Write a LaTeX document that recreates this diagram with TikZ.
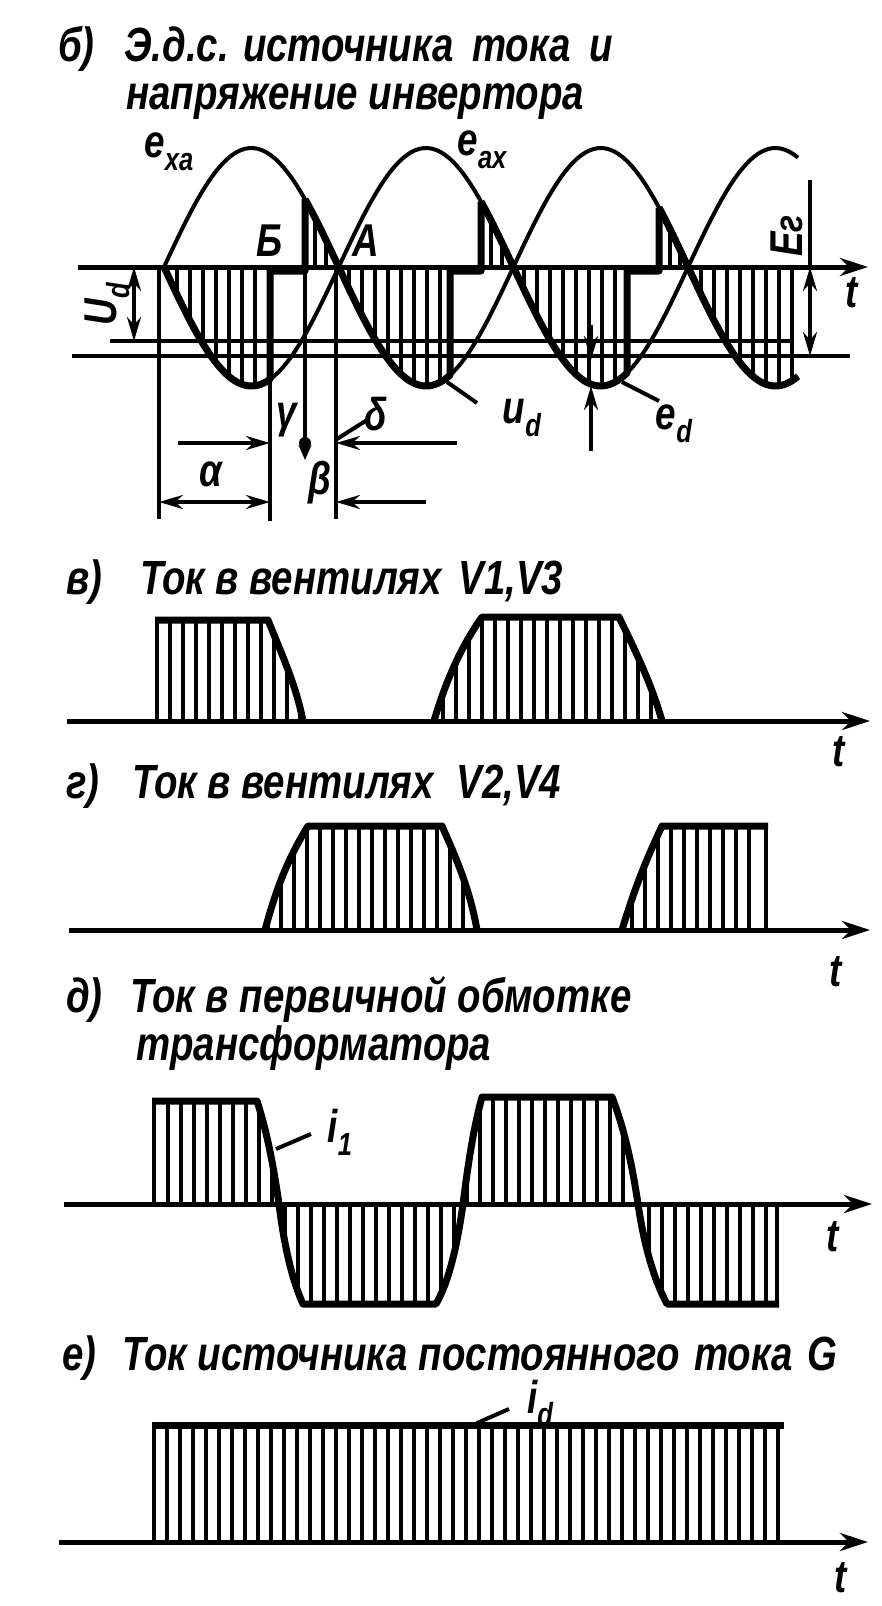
\documentclass[tikz,border=0pt]{standalone}
\usepackage{fontspec}
\setmainfont{Liberation Sans}[FakeStretch=0.8]
\usepackage{tikz}
\usetikzlibrary{arrows.meta,positioning}
\tikzstyle{axisline} = [line width=5pt,-{Stealth[length=28pt,width=18pt]}]
\tikzstyle{heavyline} = [line width=7pt,line join=round]
\tikzstyle{thinline} = [line width=4pt]
\tikzstyle{hatchline} = [line width=4pt]
\tikzstyle{arrow} = [line width=3.4pt,-{Stealth[length=24pt,width=14pt]}]
\tikzstyle{dblarrow} = [line width=3.4pt,{Stealth[length=24pt,width=14pt]}-{Stealth[length=24pt,width=14pt]}]
\tikzstyle{title} = [anchor=base west,inner sep=0pt,font=\fontsize{48}{48}\selectfont\bfseries\itshape]
\tikzstyle{lab} = [inner sep=0pt,font=\fontsize{46}{46}\selectfont\bfseries\itshape]
\newcommand{\lowtxt}[1]{\raisebox{-0.28em}{\fontsize{32}{32}\selectfont #1}}
\def\pulseA{(157,721) -- (157,620) -- (268,620) .. controls (282,655) and (296,685) .. (303,721)}
\def\heavyA{(155,620) -- (268,620) .. controls (282,655) and (296,685) .. (303,721)}
\def\pulseB{(434,721) .. controls (446,680) and (462,645) .. (482,617) -- (619,617) .. controls (635,650) and (652,685) .. (662,721)}
\def\pulseC{(265,930) .. controls (277,885) and (290,855) .. (308,826) -- (442,826) .. controls (457,860) and (470,890) .. (477,930)}
\def\pulseD{(622,930) .. controls (634,890) and (646,860) .. (662,826) -- (766,826) -- (766,930)}
\def\heavyD{(622,930) .. controls (634,890) and (646,860) .. (662,826) -- (768,826)}
\def\heavyE{(152,1101) -- (257,1101) .. controls (268,1135) and (274,1170) .. (279,1204) .. controls (284,1245) and (292,1280) .. (303,1304) -- (436,1304) .. controls (450,1280) and (458,1240) .. (463,1204) .. controls (468,1165) and (473,1130) .. (482,1097) -- (612,1097) .. controls (625,1130) and (633,1170) .. (638,1204) .. controls (644,1245) and (654,1280) .. (667,1304) -- (779,1304)}
\begin{document}
\begin{tikzpicture}[x=1pt,y=-1pt,declare function={wave(\x)=119*sin((\x-164)/174.7*180);}]
\useasboundingbox (0,0) rectangle (881,1606);

% titles
\node[title] (tb) at (58,61) {б)};
\node[title] (tb1) at (124,61) {Э.д.с. источника\hspace{8pt} тока\hspace{8pt} и};
\node[title] (tb2) at (126,109) {напряжение инвертора};
\node[title] (tv) at (66,594) {в)};
\node[title] (tv1) at (140,594) {Ток в вентилях\hspace{6pt} V1,V3};
\node[title] (tg) at (66,798) {г)};
\node[title] (tg1) at (132,798) {Ток в вентилях\hspace{12pt} V2,V4};
\node[title] (td) at (66,1012) {д)};
\node[title] (td1) at (130,1012) {Ток в первичной обмотке};
\node[title] (td2) at (136,1060) {трансформатора};
\node[title] (te) at (62,1370) {е)};
\node[title] (te1) at (122,1370) {Ток источника постоянного\hspace{4pt} тока\hspace{4pt} G};

% e.m.f. and inverter voltage
\draw[thinline,domain=164:798,samples=150] plot (\x,{267+wave(\x)});
\draw[thinline,domain=164:798,samples=150] plot (\x,{267-wave(\x)});
\foreach \x in {177,190,...,262} \draw[hatchline] (\x,267) -- (\x,{267+wave(\x)});
\foreach \x in {349,362,...,440} \draw[hatchline] (\x,267) -- (\x,{267-wave(\x)});
\foreach \x in {524,537,...,620} \draw[hatchline] (\x,267) -- (\x,{267+wave(\x)});
\foreach \x in {701,714,...,792} \draw[hatchline] (\x,267) -- (\x,{267-wave(\x)});
\foreach \x in {315,326,491,502,670,680} \draw[hatchline] (\x,267) -- (\x,{267-abs(wave(\x))});
\draw[heavyline,domain=164:270,samples=40] plot (\x,{267+wave(\x)}) -- (270,271) -- (305,271) -- (305,{267-wave(305)});
\draw[heavyline,domain=305:450,samples=50] plot (\x,{267-wave(\x)}) -- (450,271) -- (481,271) -- (481,{267-abs(wave(481))});
\draw[heavyline,domain=481:627,samples=50] plot (\x,{267+wave(\x)}) -- (627,271) -- (659,271) -- (659,{267-abs(wave(659))});
\draw[heavyline,domain=659:798,samples=50] plot (\x,{267-wave(\x)});
\coordinate (ax0) at (78,267);
\coordinate (ax1) at (868,267);
\draw[axisline] (ax0) -- (ax1);
\coordinate (ud0) at (110,341);
\coordinate (ud1) at (790,341);
\draw[thinline] (ud0) -- (ud1);
\coordinate (er0) at (72,356);
\coordinate (er1) at (850,356);
\draw[thinline] (er0) -- (er1);
\coordinate (va0) at (159,267);
\coordinate (va1) at (159,519);
\draw[thinline] (va0) -- (va1);
\coordinate (vb0) at (270,380);
\coordinate (vb1) at (270,521);
\draw[thinline] (vb0) -- (vb1);
\coordinate (vc0) at (305,267);
\coordinate (vc1) at (305,460);
\draw[thinline,-{Stealth[length=15pt,width=13pt]}] (vc0) -- (vc1);
\coordinate (vd0) at (336,267);
\coordinate (vd1) at (336,519);
\draw[thinline] (vd0) -- (vd1);
\coordinate (d1) at (178,443);
\coordinate (d2) at (270,443);
\draw[arrow] (d1) -- (d2);
\coordinate (d3) at (457,443);
\coordinate (d4) at (336,443);
\draw[arrow] (d3) -- (d4);
\coordinate (dot) at (305,443);
\fill (dot) circle (6pt);
\coordinate (d5) at (159,502);
\coordinate (d6) at (270,502);
\draw[dblarrow] (d5) -- (d6);
\coordinate (d7) at (426,502);
\coordinate (d8) at (336,502);
\draw[arrow] (d7) -- (d8);
\coordinate (h1) at (134,267);
\coordinate (h2) at (134,341);
\draw[dblarrow] (h1) -- (h2);
\coordinate (h3) at (810,180);
\coordinate (h4) at (810,267);
\draw[thinline] (h3) -- (h4);
\coordinate (h5) at (810,267);
\coordinate (h6) at (810,356);
\draw[dblarrow] (h5) -- (h6);
\coordinate (k1) at (591,325);
\coordinate (k2) at (591,360);
\draw[arrow] (k1) -- (k2);
\coordinate (k3) at (591,451);
\coordinate (k4) at (591,386);
\draw[arrow] (k3) -- (k4);
\node[lab] (exa) at (169,152) {e\lowtxt{xa}};
\node[lab] (eax) at (482,150) {e\lowtxt{ax}};
\node[lab] (lbb) at (270,241) {Б};
\node[lab] (lba) at (366,241) {А};
\node[lab,rotate=90] (lbe) at (787,236) {E{\fontsize{40}{40}\selectfont г}};
\node[lab,rotate=90] (lbu) at (107,304) {U\lowtxt{d}};
\node[lab] (tta) at (852,293) {t};
\node[lab] (lgam) at (287,420) {γ};
\node[lab] (ldel) at (376,414) {δ};
\node[lab] (lalp) at (211,474) {α};
\node[lab] (lbet) at (320,483) {β};
\node[lab] (lud) at (522,418) {u\lowtxt{d}};
\node[lab] (led) at (674,424) {e\lowtxt{d}};
\coordinate (ldu) at (447,382);
\coordinate (lde) at (622,382);
\coordinate (ldd) at (337,439);
\draw[thinline] (ldu) -- (477,403);
\draw[thinline] (lde) -- (659,401);
\draw[thinline] (ldd) -- (367,420);

% current in V1, V3
\foreach \pth in {\pulseA,\pulseB} {
  \begin{scope}
    \clip \pth -- cycle;
    \foreach \x in {170,183,...,670} \draw[hatchline] (\x,600) -- (\x,725);
  \end{scope}
}
\draw[thinline] (157,721) -- (157,620);
\draw[heavyline] \heavyA;
\draw[heavyline] \pulseB;
\coordinate (bx0) at (67,721);
\coordinate (bx1) at (870,721);
\draw[axisline] (bx0) -- (bx1);
\node[lab] (ttb) at (839,752) {t};

% current in V2, V4
\foreach \pth in {\pulseC,\pulseD} {
  \begin{scope}
    \clip \pth -- cycle;
    \foreach \x in {268,281,...,760} \draw[hatchline] (\x,810) -- (\x,935);
  \end{scope}
}
\draw[thinline] (766,826) -- (766,930);
\draw[heavyline] \pulseC;
\draw[heavyline] \heavyD;
\coordinate (cx0) at (69,930);
\coordinate (cx1) at (870,930);
\draw[axisline] (cx0) -- (cx1);
\node[lab] (ttc) at (836,972) {t};

% primary winding current
\begin{scope}
  \clip \heavyE -- (777,1204) -- (154,1204) -- cycle;
  \foreach \x in {168,181,...,770} \draw[hatchline] (\x,1090) -- (\x,1315);
\end{scope}
\draw[thinline] (154,1204) -- (154,1101);
\draw[thinline] (777,1204) -- (777,1304);
\draw[heavyline] \heavyE;
\coordinate (dx0) at (64,1204);
\coordinate (dx1) at (872,1204);
\draw[axisline] (dx0) -- (dx1);
\node[lab] (lio) at (340,1132) {i\lowtxt{1}};
\coordinate (li1) at (276,1149);
\draw[thinline] (li1) -- (311,1134);
\node[lab] (ttd) at (833,1237) {t};

% dc source current
\foreach \x in {154,167,...,782} \draw[hatchline] (\x,1425) -- (\x,1542);
\coordinate (et0) at (152,1425);
\coordinate (et1) at (784,1425);
\draw[heavyline] (et0) -- (et1);
\coordinate (ex0) at (59,1542);
\coordinate (ex1) at (868,1542);
\draw[axisline] (ex0) -- (ex1);
\node[lab] (lid) at (540,1403) {i\lowtxt{d}};
\coordinate (li2) at (477,1423);
\draw[thinline] (li2) -- (509,1409);
\node[lab] (tte) at (841,1578) {t};
\end{tikzpicture}
\end{document}
